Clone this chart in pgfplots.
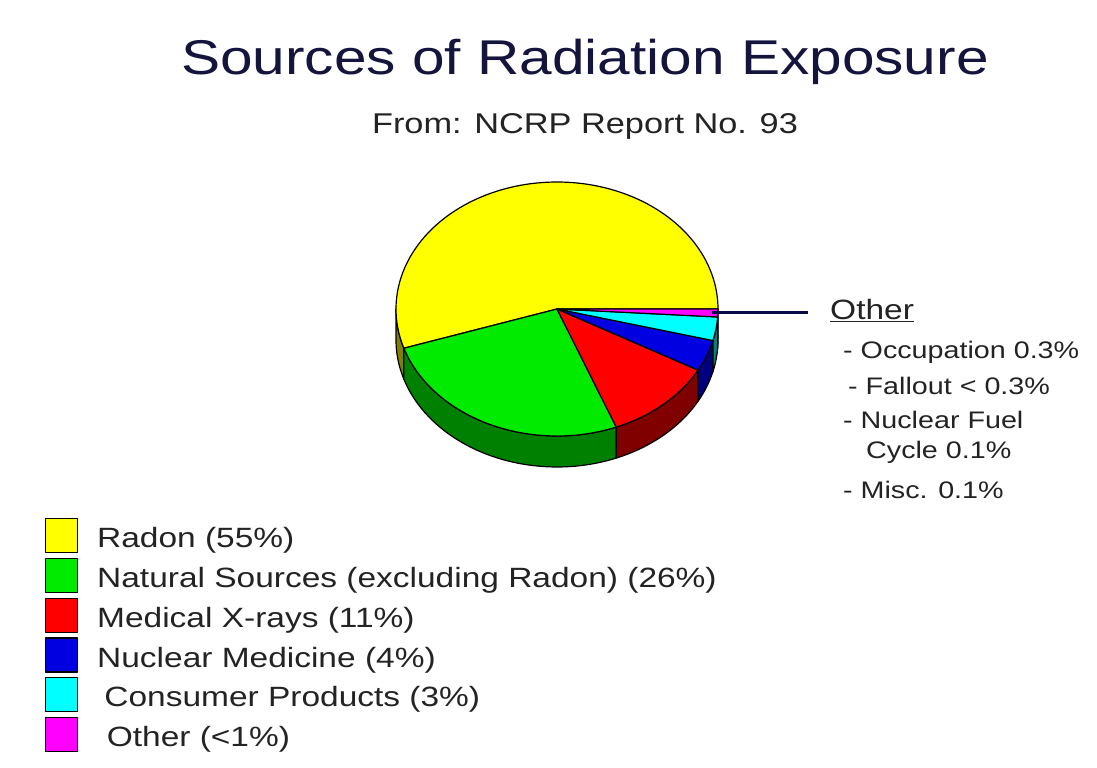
\documentclass[border=0pt]{standalone}
\usepackage{pgfplots}
\usepackage{pgfplotstable}
\pgfplotsset{compat=1.18}
\usepackage{graphicx}
\usepackage{fontspec}
\setmainfont{Liberation Sans}

% slice colours: top face and darker side wall
\definecolor{radonT}{RGB}{255,255,0}
\definecolor{radonS}{RGB}{128,128,0}
\definecolor{natT}{RGB}{0,235,0}
\definecolor{natS}{RGB}{0,128,0}
\definecolor{medT}{RGB}{255,0,0}
\definecolor{medS}{RGB}{128,0,0}
\definecolor{nucT}{RGB}{0,0,225}
\definecolor{nucS}{RGB}{0,0,128}
\definecolor{conT}{RGB}{0,255,255}
\definecolor{conS}{RGB}{0,128,128}
\definecolor{othT}{RGB}{255,0,255}
\definecolor{othS}{RGB}{128,0,128}
\definecolor{titleC}{RGB}{20,20,60}
\definecolor{textC}{RGB}{35,35,35}
\definecolor{leaderC}{RGB}{10,10,70}

% share of annual dose, percent
\pgfplotstableread[col sep=comma]{
value,top,side
55,radonT,radonS
26,natT,natS
11,medT,medS
4,nucT,nucS
3,conT,conS
1,othT,othS
}\shares

% pie geometry (bp): centre, radii, thickness
\def\cx{557}
\def\cy{459}
\def\rx{161}
\def\ry{127}
\def\dz{31}

\newcommand\wide[1]{\scalebox{1.2}[1]{#1}}

\begin{document}
\begin{tikzpicture}
\fill[white] (0bp,0bp) rectangle (1097bp,768bp);
\begin{axis}[
  x=1bp, y=1bp, xmin=0, xmax=1097, ymin=0, ymax=768,
  at={(0bp,0bp)}, anchor=south west,
  hide axis, clip=false,
  legend entries={
    \wide{Radon (55\%)},
    \wide{Natural Sources (excluding Radon) (26\%)},
    \wide{Medical X-rays (11\%)},
    \wide{Nuclear Medicine (4\%)},
    \wide{\hspace{6bp}Consumer Products (3\%)},
    \wide{\hspace{8bp}Other (<1\%)}
  },
  legend cell align=left,
  legend image code/.code={\draw[#1, draw=black, line width=1.2bp] (0bp,-11.5bp) rectangle (32bp,22.5bp);},
  legend style={
    at={(axis cs:45,250)}, anchor=north west,
    draw=none, fill=none, inner sep=0pt, outer sep=0pt,
    font=\fontsize{28}{30}\selectfont, text=textC,
    row sep=3.2bp,
    nodes={inner sep=0pt, text height=20bp, text depth=7bp},
    /tikz/every odd column/.append style={column sep=19bp},
  },
]
\pgfplotstablegetrowsof{\shares}
\pgfmathtruncatemacro\nlast{\pgfplotsretval-1}

% side walls of the front half
\pgfmathsetmacro\cum{0}
\pgfplotsforeachungrouped \i in {0,...,\nlast}{%
  \pgfplotstablegetelem{\i}{value}\of\shares \let\val\pgfplotsretval
  \pgfplotstablegetelem{\i}{side}\of\shares \let\sidecol\pgfplotsretval
  \pgfmathsetmacro\angA{\cum*3.6}%
  \pgfmathsetmacro\cum{\cum+\val}%
  \pgfmathsetmacro\angB{\cum*3.6}%
  \pgfmathsetmacro\sA{max(\angA,180)}%
  \pgfmathsetmacro\sB{min(\angB,360)}%
  \pgfmathtruncatemacro\vis{\sB>\sA}%
  \ifnum\vis=1
    \pgfmathtruncatemacro\nsmp{max(3,(\sB-\sA)/2)}%
    \pgfmathsetmacro\ex{\cx+\rx*cos(\sB)}%
    \pgfmathsetmacro\ey{\cy-\dz+\ry*sin(\sB)}%
    \edef\doplot{\noexpand\addplot[forget plot, fill=\sidecol, draw=black, line width=1.2bp, line join=round, domain=\sA:\sB, samples=\nsmp]
      ({\cx+\rx*cos(x)},{\cy+\ry*sin(x)}) -- (axis cs:\ex,\ey)
      arc[start angle=\sB, end angle=\sA, x radius=\rx bp, y radius=\ry bp] -- cycle;}%
    \doplot
  \fi
}

% top faces
\pgfmathsetmacro\cum{0}
\pgfplotsforeachungrouped \i in {0,...,\nlast}{%
  \pgfplotstablegetelem{\i}{value}\of\shares \let\val\pgfplotsretval
  \pgfplotstablegetelem{\i}{top}\of\shares \let\topcol\pgfplotsretval
  \pgfmathsetmacro\angA{\cum*3.6}%
  \pgfmathsetmacro\cum{\cum+\val}%
  \pgfmathsetmacro\angB{\cum*3.6}%
  \pgfmathtruncatemacro\nsmp{max(3,(\angB-\angA)/2)}%
  \edef\doplot{\noexpand\addplot[fill=\topcol, draw=black, line width=1.2bp, line join=round, domain=\angA:\angB, samples=\nsmp]
    ({\cx+\rx*cos(x)},{\cy+\ry*sin(x)}) -- (axis cs:\cx,\cy) -- cycle;}%
  \doplot
}
\end{axis}

% leader to the breakdown of "Other"
\draw[leaderC, line width=3bp] (712bp,455bp) -- (808bp,455bp);

% titles
\node[text=titleC] at (585bp,706bp) {\wide{\fontsize{49}{55}\selectfont Sources of Radiation Exposure}};
\node[text=textC] at (585bp,642bp) {\wide{\fontsize{28.7}{32}\selectfont From: NCRP Report No. 93}};

% breakdown of "Other"
\begin{scope}[every node/.style={anchor=west, text=textC, inner sep=0pt}]
\node at (830bp,457bp) {\wide{\fontsize{28}{30}\selectfont\underline{Other}}};
\node at (843bp,416bp) {\wide{\fontsize{24}{28}\selectfont - Occupation 0.3\%}};
\node at (848bp,382bp) {\wide{\fontsize{24}{28}\selectfont - Fallout < 0.3\%}};
\node at (843bp,348bp) {\wide{\fontsize{24}{28}\selectfont - Nuclear Fuel}};
\node at (866bp,316bp) {\wide{\fontsize{24}{28}\selectfont Cycle 0.1\%}};
\node at (843bp,278bp) {\wide{\fontsize{24}{28}\selectfont - Misc. 0.1\%}};
\end{scope}
\end{tikzpicture}
\end{document}
